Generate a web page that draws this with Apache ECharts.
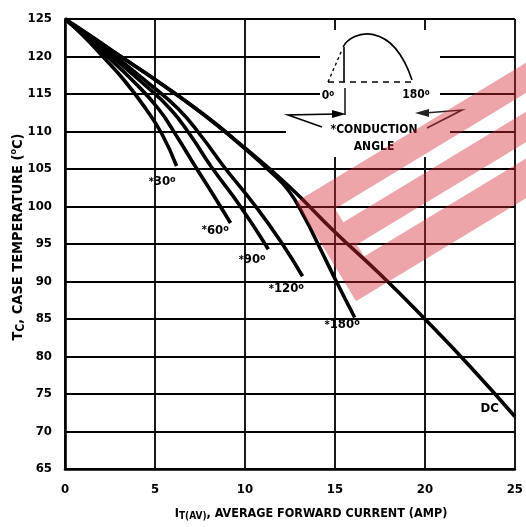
<!DOCTYPE html>
<html><head><meta charset="utf-8">
<script src="https://cdn.jsdelivr.net/npm/echarts@6/dist/echarts.min.js"></script>
<style>html,body{margin:0;padding:0;background:#fff}#c{width:526px;height:527px}</style>
</head><body><div id="c"></div>
<script>
// ---- data ----
const xTicks = [0, 5, 10, 15, 20, 25];
const yTicks = [65, 70, 75, 80, 85, 90, 95, 100, 105, 110, 115, 120, 125];
const curve30  = [[0,125],[1.0,122.8],[2.1,120],[3.3,116.8],[4.5,113],[5.4,109.6],[6.2,105.4]];
const curve60  = [[0,125],[1.1,122.7],[2.35,120],[3.8,116.7],[5.2,113],[6.2,109.4],[7.2,105.5],[8.2,101.7],[9.2,97.8]];
const curve90  = [[0,125],[1.2,122.7],[2.6,120],[4.2,116.7],[5.85,113],[7.0,109.4],[8.1,105.4],[9.75,100],[11.3,94.3]];
const curve120 = [[0,125],[1.3,122.7],[2.8,120],[4.5,116.7],[6.3,113],[7.6,109.3],[8.8,105.4],[10.6,100],[12.0,95.3],[13.2,90.7]];
const curve180 = [[0,125],[1.45,122.7],[3.1,120],[5.2,116.6],[7.3,113],[8.7,110.4],[10,107.7],[11.3,104.9],[12.4,102.2],[13.3,98.6],[14.2,94.3],[15.1,89.9],[16.1,85.2]];
const curveDC  = [[0,125],[1.45,122.7],[3.1,120],[5.2,116.6],[7.3,113],[10,107.8],[12.4,102.8],[15,96.6],[17.5,91.0],[20,85],[22.5,78.7],[25,72]];
const labelNames = ['30', '60', '90', '120', '180', 'DC'];
const labelX = [5.4, 8.35, 10.4, 12.3, 15.4, 23.6];
const labelY = [103.3, 96.8, 92.9, 89.0, 84.2, 73.1];

const FONT = '"DejaVu Sans Condensed","Liberation Sans Narrow","DejaVu Sans",sans-serif';
const chart = echarts.init(document.getElementById('c'), null, {renderer: 'canvas'});

function lineSeries(name, data) {
  return {
    name, type: 'line', data, showSymbol: false, smooth: 0.5,
    lineStyle: {color: '#000', width: 3.6}, z: 4, silent: true
  };
}

// watermark band (decoration)
const U = [0.855, -0.518], V = [0.518, 0.855];
function bandPt(u, v) { return [296 + u * U[0] + v * V[0], 202 + u * U[1] + v * V[1]]; }
const L = 330;
const eShape = [[0,0],[L,0],[L,26],[30,26],[30,42],[L,42],[L,68],[30,68],[30,82],[L,82],[L,116],[0,116]];

const txt = {fontFamily: FONT, fontWeight: 'bold', fill: '#000'};
const degRich = {
  n: {fontSize: 13, fontFamily: FONT, fontWeight: 'bold', fill: '#000'},
  s: {fontSize: 11, fontFamily: FONT, fontWeight: 'bold', fill: '#000'},
  o: {fontSize: 9, fontFamily: FONT, fontWeight: 'bold', fill: '#000', verticalAlign: 'top', lineHeight: 9}
};

const graphics = [
  {type: 'rect', shape: {x: 320, y: 30, width: 120, height: 127}, style: {fill: '#fff'}, z: 3},
  {type: 'rect', shape: {x: 286, y: 104, width: 164, height: 32}, style: {fill: '#fff'}, z: 3},
  {type: 'bezierCurve', shape: {x1: 343, y1: 47, cpx1: 352, cpy1: 30, cpx2: 392, cpy2: 20, x2: 412, y2: 80}, style: {stroke: '#000', lineWidth: 1.6, fill: null}, z: 5},
  {type: 'line', shape: {x1: 344, y1: 47, x2: 344, y2: 82}, style: {stroke: '#000', lineWidth: 1.6}, z: 5},
  {type: 'line', shape: {x1: 328, y1: 82, x2: 342, y2: 50}, style: {stroke: '#000', lineWidth: 1.4, lineDash: [3, 3]}, z: 5},
  {type: 'line', shape: {x1: 328, y1: 82, x2: 412, y2: 82}, style: {stroke: '#000', lineWidth: 1.4, lineDash: [6, 5]}, z: 5},
  {type: 'line', shape: {x1: 345, y1: 88, x2: 345, y2: 115}, style: {stroke: '#000', lineWidth: 1.4}, z: 5},
  {type: 'polyline', shape: {points: [[322,127],[288,115],[336,114]]}, style: {stroke: '#000', lineWidth: 1.6, fill: null}, z: 5},
  {type: 'polygon', shape: {points: [[332,110],[346,114],[332,118]]}, style: {fill: '#000'}, z: 5},
  {type: 'polyline', shape: {points: [[427,128],[462,110],[425,113]]}, style: {stroke: '#222', lineWidth: 1.6, fill: null}, z: 5},
  {type: 'polygon', shape: {points: [[429,109],[415,113],[429,117]]}, style: {fill: '#222'}, z: 5},
  {type: 'text', x: 328, y: 96, style: Object.assign({}, txt, {text: '{n|0}{o|o}', align: 'center', verticalAlign: 'middle',
      rich: {n: {fontSize: 12, fontFamily: FONT, fontWeight: 'bold'}, o: {fontSize: 8, fontFamily: FONT, fontWeight: 'bold', verticalAlign: 'top', lineHeight: 8}}}), z: 6},
  {type: 'text', x: 416, y: 95, style: Object.assign({}, txt, {text: '{n|180}{o|o}', align: 'center', verticalAlign: 'middle',
      rich: {n: {fontSize: 12, fontFamily: FONT, fontWeight: 'bold'}, o: {fontSize: 8, fontFamily: FONT, fontWeight: 'bold', verticalAlign: 'top', lineHeight: 8}}}), z: 6},
  {type: 'text', x: 374, y: 130, style: Object.assign({}, txt, {text: '*CONDUCTION', fontSize: 12, align: 'center', verticalAlign: 'middle'}), z: 6},
  {type: 'text', x: 374, y: 147, style: Object.assign({}, txt, {text: 'ANGLE', fontSize: 12, align: 'center', verticalAlign: 'middle'}), z: 6},
  {type: 'text', x: 311, y: 514, style: Object.assign({}, txt, {text: '{a|I}{s|T(AV)}{a|, AVERAGE FORWARD CURRENT (AMP)}', align: 'center', verticalAlign: 'middle',
      rich: {a: {fontSize: 12.5, fontFamily: FONT, fontWeight: 'bold'}, s: {fontSize: 10, fontFamily: FONT, fontWeight: 'bold', verticalAlign: 'bottom', padding: [5,0,0,0]}}}), z: 6},
  {type: 'text', x: 18, y: 237, rotation: Math.PI / 2, style: Object.assign({}, txt, {text: '{a|T}{s|C}{a|, CASE TEMPERATURE (}{o|o}{a|C)}', align: 'center', verticalAlign: 'middle',
      rich: {a: {fontSize: 14.5, fontFamily: FONT, fontWeight: 'bold'}, s: {fontSize: 12, fontFamily: FONT, fontWeight: 'bold', verticalAlign: 'bottom', padding: [5,0,0,0]},
             o: {fontSize: 9, fontFamily: FONT, fontWeight: 'bold', verticalAlign: 'top', lineHeight: 9}}}), z: 6},
  {type: 'polygon', shape: {points: eShape.map(p => bandPt(p[0], p[1]))}, style: {fill: 'rgba(214,40,52,0.42)'}, z: 100, silent: true}
];

chart.setOption({
  animation: false,
  backgroundColor: '#fff',
  grid: {left: 65, right: 10, top: 19, bottom: 58},
  xAxis: {
    type: 'value', min: xTicks[0], max: xTicks[xTicks.length - 1], interval: 5,
    axisLine: {show: true, lineStyle: {color: '#000', width: 2.6}},
    axisTick: {show: false},
    splitLine: {show: true, lineStyle: {color: '#000', width: 1.8}},
    axisLabel: {color: '#000', fontFamily: FONT, fontWeight: 'bold', fontSize: 13, margin: 14,
      formatter: v => xTicks.includes(v) ? String(v) : ''}
  },
  yAxis: {
    type: 'value', min: yTicks[0], max: yTicks[yTicks.length - 1], interval: 5,
    axisLine: {show: true, lineStyle: {color: '#000', width: 2.6}},
    axisTick: {show: false},
    splitLine: {show: true, lineStyle: {color: '#000', width: 1.8}},
    axisLabel: {color: '#000', fontFamily: FONT, fontWeight: 'bold', fontSize: 13, margin: 13,
      formatter: v => yTicks.includes(v) ? String(v) : ''}
  },
  series: [
    lineSeries('30', curve30),
    lineSeries('60', curve60),
    lineSeries('90', curve90),
    lineSeries('120', curve120),
    lineSeries('180', curve180),
    lineSeries('DC', curveDC)
  ],
  graphic: graphics
});

// curve labels, positioned through the chart's own scales
const labelGraphics = labelNames.map((n, i) => {
  const p = chart.convertToPixel({gridIndex: 0}, [labelX[i], labelY[i]]);
  return {
    type: 'text', x: p[0], y: p[1], z: 7,
    style: {text: n === 'DC' ? '{n|DC}' : '{s|*}{n|' + n + '}{o|o}', align: 'center', verticalAlign: 'middle',
            fontFamily: FONT, fontWeight: 'bold', fill: '#000', rich: degRich}
  };
});
chart.setOption({graphic: graphics.concat(labelGraphics)});
</script>
</body></html>
